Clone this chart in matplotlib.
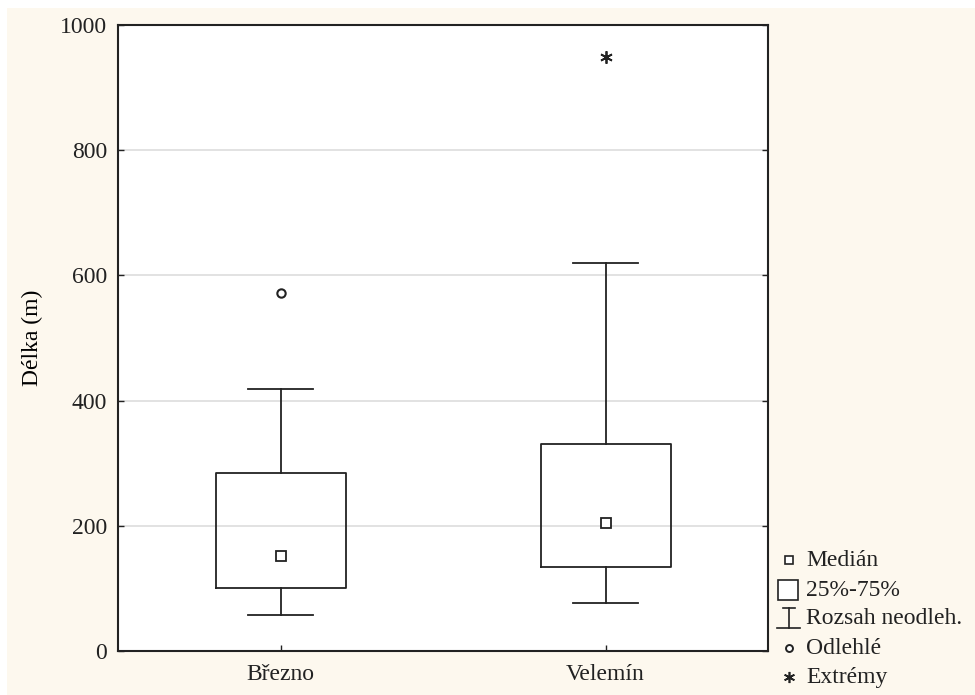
import matplotlib.pyplot as plt
from matplotlib.patches import Rectangle

# Data
groups = ['Březno', 'Velemín']
medians = [152, 204]
q1 = [101, 134]
q3 = [284, 331]
whisker_lo = [57, 77]
whisker_hi = [418, 620]
outliers = [[572], []]
extremes = [[], [949]]

legend_labels = ['Medián', '25%-75%', 'Rozsah neodleh.', 'Odlehlé', 'Extrémy']

plt.rcParams['font.family'] = ['Liberation Serif', 'DejaVu Serif']

fig = plt.figure(figsize=(9.75, 6.95), dpi=100)
fig.patch.set_facecolor('white')
# cream background panel
fig.patches.append(Rectangle((7 / 975, 0), 1 - 7 / 975, 1 - 8 / 695,
                             transform=fig.transFigure, facecolor='#fdf8ee',
                             edgecolor='none', zorder=-10))

ax = fig.add_axes([118 / 975, 1 - 651 / 695, 650 / 975, 626 / 695])
ax.set_facecolor('white')

stats = []
for i, g in enumerate(groups):
    stats.append({'med': medians[i], 'q1': q1[i], 'q3': q3[i],
                  'whislo': whisker_lo[i], 'whishi': whisker_hi[i],
                  'fliers': [], 'label': g})

ax.bxp(stats, positions=range(len(groups)), widths=0.4, showfliers=False,
       boxprops=dict(color='#222222', linewidth=1.3),
       whiskerprops=dict(color='#222222', linewidth=1.3),
       capprops=dict(color='#222222', linewidth=1.3),
       medianprops=dict(visible=False), capwidths=0.2)

for i in range(len(groups)):
    ax.plot([i], [medians[i]], marker='s', markersize=7, markerfacecolor='white',
            markeredgecolor='#222222', markeredgewidth=1.3, linestyle='none', zorder=5)
    for v in outliers[i]:
        ax.plot([i], [v], marker='o', markersize=6, markerfacecolor='white',
                markeredgecolor='#222222', markeredgewidth=1.5, linestyle='none')
    for v in extremes[i]:
        ax.plot([i], [v], marker=(6, 2, 0), markersize=9, color='#222222',
                markeredgewidth=1.3, linestyle='none')

ax.set_xlim(-0.5, 1.5)
ax.set_ylim(0, 1000)
ax.set_yticks([0, 200, 400, 600, 800, 1000])
ax.set_xticks(range(len(groups)))
ax.set_xticklabels(groups)
ax.tick_params(direction='in', length=4, width=1, labelsize=17, colors='#222222',
               right=True, pad=8)
ax.tick_params(axis='x', pad=9)
ax.grid(axis='y', color='#dddddd', linewidth=1.2)
ax.set_axisbelow(True)
for s in ax.spines.values():
    s.set_linewidth(1.5)
    s.set_color('#222222')
ax.set_ylabel('Délka (m)', fontsize=17, labelpad=12)

# legend drawn manually to the right of the plot
tf = fig.transFigure
def fx(px):
    return px / 975
def fy(py):
    return 1 - py / 695

ys = [560, 590, 619, 648, 677]
mx = 789
fig.lines.append(plt.Line2D([fx(mx)], [fy(ys[0])], marker='s', markersize=6,
                            markerfacecolor='white', markeredgecolor='#222222',
                            markeredgewidth=1.2, transform=tf))
fig.patches.append(Rectangle((fx(778), fy(600)), 20 / 975, 20 / 695,
                             transform=tf, facecolor='white', edgecolor='#222222',
                             linewidth=1.2))
fig.lines.append(plt.Line2D([fx(783), fx(795)], [fy(608)] * 2, color='#222222',
                            linewidth=1.2, transform=tf))
fig.lines.append(plt.Line2D([fx(mx)] * 2, [fy(608), fy(628)], color='#222222',
                            linewidth=1.2, transform=tf))
fig.lines.append(plt.Line2D([fx(777), fx(800)], [fy(628)] * 2, color='#222222',
                            linewidth=1.2, transform=tf))
fig.lines.append(plt.Line2D([fx(mx)], [fy(ys[3])], marker='o', markersize=5,
                            markerfacecolor='white', markeredgecolor='#222222',
                            markeredgewidth=1.4, transform=tf))
fig.lines.append(plt.Line2D([fx(mx)], [fy(ys[4])], marker=(6, 2, 0), markersize=8,
                            color='#222222', markeredgewidth=1.2, transform=tf))
for y, lab in zip(ys, legend_labels):
    fig.text(fx(806), fy(y), lab, fontsize=17, va='center', ha='left', color='#222222')

fig.savefig('out.png', dpi=100, facecolor=fig.get_facecolor())
